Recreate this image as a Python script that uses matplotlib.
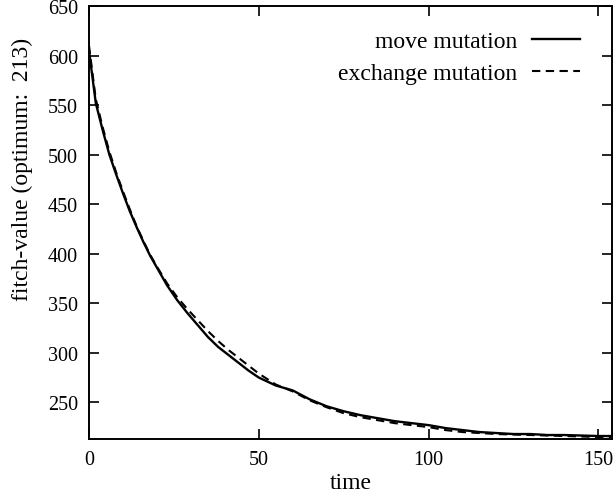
import matplotlib
matplotlib.use("Agg")
import matplotlib.pyplot as plt

plt.rcParams['font.family'] = ['Liberation Serif', 'DejaVu Serif']

# fitness over time for the two mutation operators
time_move = [0, 2, 4, 6, 8, 10, 12, 14, 16, 18, 20, 23, 26, 29, 32, 35, 38, 41, 44, 47,
             50, 55, 60, 65, 70, 75, 80, 85, 90, 95, 100, 105, 110, 115, 120, 125, 130,
             135, 140, 145, 150, 154]
fitch_move = [605, 552, 525, 500, 480, 461, 443, 427, 412, 398, 386, 368, 353, 340, 328,
              316, 306, 298, 290, 282, 275, 267, 262, 253, 246, 241, 237, 234, 231, 229,
              227, 224, 222, 220, 219, 218, 218, 217, 217, 216.5, 216, 216]

time_exchange = [0, 2, 4, 6, 8, 10, 12, 14, 16, 18, 20, 23, 26, 29, 32, 35, 38, 41, 44, 47,
                 50, 55, 60, 65, 70, 75, 80, 85, 90, 95, 100, 105, 110, 115, 120, 125, 130,
                 135, 140, 145, 150, 154]
fitch_exchange = [610, 556, 528, 503, 482, 463, 445, 428, 413, 399, 387, 370, 356, 344, 333,
                  322, 312, 303, 295, 287, 279, 268, 261, 252, 245, 239, 235, 232, 229, 227,
                  225, 222, 220, 219, 218, 217.5, 217, 216.5, 216, 215.5, 215, 215]

xticks = [0, 50, 100, 150]
yticks = [250, 300, 350, 400, 450, 500, 550, 600, 650]

fig = plt.figure(figsize=(6.15, 5.02), dpi=100)
ax = fig.add_axes([89 / 615, 1 - 440 / 502, (612 - 89) / 615, (440 - 7) / 502])

ax.plot(time_move, fitch_move, color='black', lw=1.7, label='move mutation')
ax.plot(time_exchange, fitch_exchange, color='black', lw=1.5, dashes=(4, 2.6),
        label='exchange mutation')

ax.set_xlim(0, 154)
ax.set_ylim(213, 650)
ax.set_xticks(xticks)
ax.set_yticks(yticks)
ax.tick_params(direction='in', length=7, width=1.2, top=True, right=True,
               labelsize=14.5, pad=8)
for s in ax.spines.values():
    s.set_linewidth(1.4)

ax.set_xlabel('time', fontsize=17, labelpad=2)
ax.set_ylabel('fitch-value (optimum:  213)', fontsize=17)
ax.yaxis.set_label_coords(-0.107, 0.626)

leg = ax.legend(loc='upper right', bbox_to_anchor=(0.957, 0.965), frameon=False,
                fontsize=17, markerfirst=False, handlelength=2.05, handletextpad=0.62,
                labelspacing=0.45, borderaxespad=0)
for t in leg.get_texts():
    t.set_ha('right')

fig.savefig('out.png', dpi=100)
